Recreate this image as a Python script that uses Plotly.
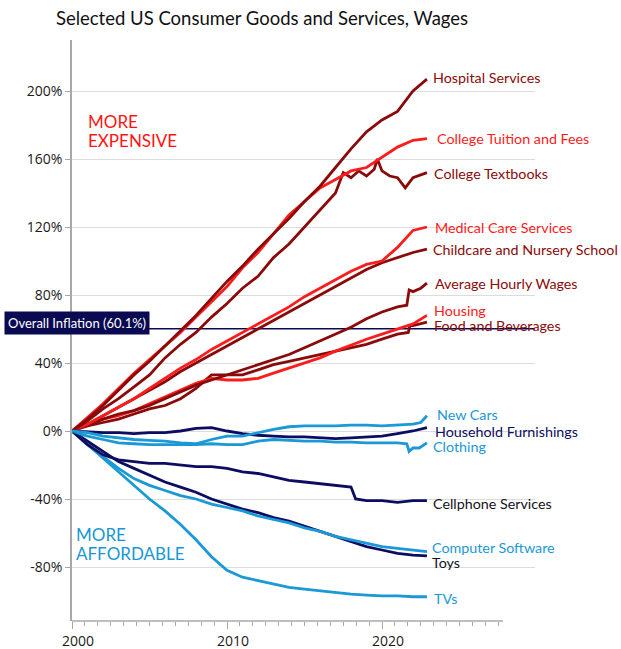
import plotly.graph_objects as go

# ---------------- data ----------------
YEARS = [2000, 2001, 2002, 2003, 2004, 2005, 2006, 2007, 2008, 2009, 2010, 2011,
         2012, 2013, 2014, 2015, 2016, 2017, 2018, 2019, 2020, 2021, 2022, 2022.9]

hospital = [0, 7, 15, 24, 33, 41, 50, 59, 68, 78, 88, 97, 107, 116, 125, 135, 144,
            155, 166, 176, 183, 188, 200, 207]
tuition = [0, 8, 16, 25, 34, 42, 50, 58, 67, 76, 85, 96, 105, 116, 127, 135, 143,
           148, 153, 155, 161, 167, 171, 172]
textbooks_x = [2000, 2001, 2002, 2003, 2004, 2005, 2006, 2007, 2008, 2009, 2010, 2011,
               2012, 2013, 2014, 2015, 2016, 2017, 2017.5, 2018, 2018.5, 2019, 2019.5,
               2019.7, 2020, 2020.5, 2021, 2021.5, 2022, 2022.9]
textbooks = [0, 6, 13, 19, 26, 33, 43, 51, 58, 67, 75, 84, 91, 102, 110, 120, 130, 140,
             152, 149, 153, 150, 154, 160, 153, 150, 149, 143, 149, 152]
medical = [0, 4, 9, 14, 19, 25, 31, 37, 42, 48, 53, 58, 63, 68, 73, 79, 84, 89, 94, 98,
           100, 108, 118, 120]
childcare = [0, 4, 9, 14, 19, 24, 29, 35, 40, 45, 50, 55, 60, 65, 70, 75, 80, 85, 90, 95,
             99, 102, 105, 107]
wages_x = [2000, 2001, 2002, 2003, 2004, 2005, 2006, 2007, 2008, 2009, 2010, 2011, 2012,
           2013, 2014, 2015, 2016, 2017, 2018, 2019, 2020, 2021, 2021.6, 2021.75, 2022,
           2022.5, 2022.9]
wages = [0, 3.5, 7, 10, 12, 15, 19, 23, 27, 30, 33, 36, 39, 42, 45, 49, 53, 57, 61, 66,
         70, 73, 74, 83, 82, 84, 87]
housing = [0, 4, 7, 9, 12, 16, 20, 24, 28, 31, 30, 30, 31, 34, 37, 40, 43, 47, 50.5, 54,
           57, 60, 63, 68]
food_x = [2000, 2001, 2002, 2003, 2004, 2005, 2006, 2007, 2008, 2009, 2010, 2011, 2012,
          2013, 2014, 2015, 2016, 2017, 2018, 2019, 2020, 2021, 2021.7, 2021.8, 2022, 2022.9]
food = [0, 3, 5, 7, 10, 13, 15, 19, 25, 33, 33, 33, 36, 39, 41, 43, 45, 47, 49, 51, 54,
        57, 58, 62, 62, 64]
cars_x = [2000, 2001, 2002, 2003, 2004, 2005, 2006, 2007, 2008, 2009, 2010, 2011, 2012,
          2013, 2014, 2015, 2016, 2017, 2018, 2019, 2020, 2021, 2022, 2022.5, 2022.9]
new_cars = [0, -1, -3, -4, -5, -5.5, -6, -7, -7.5, -5, -3, -3, -1, 1, 2.5, 3, 3, 3, 3.5,
            3.5, 3, 3.5, 4, 5, 9]
furnishings = [0, -0.5, -1, -1, -1.5, -1, -1, 0, 1.5, 2, 0, -1.5, -2.5, -3, -3.5, -3.5,
               -4, -4.5, -4, -3.5, -3, -1.5, 0, 2]
clothing_x = [2000, 2001, 2002, 2003, 2004, 2005, 2006, 2007, 2008, 2009, 2010, 2011,
              2012, 2013, 2014, 2015, 2016, 2017, 2018, 2019, 2020, 2021, 2021.6, 2021.75,
              2022, 2022.4, 2022.9]
clothing = [0, -3, -5, -7, -7.5, -8, -8, -8, -8, -7.5, -8, -8, -6, -5, -5.5, -6, -6, -6.5,
            -6.5, -7, -7, -7, -7.5, -12, -10, -10, -7]
cell_x = [2000, 2001, 2002, 2003, 2004, 2005, 2006, 2007, 2008, 2009, 2010, 2011, 2012,
          2013, 2014, 2015, 2016, 2017, 2018, 2018.3, 2019, 2020, 2021, 2022, 2022.9]
cellphone = [0, -8, -14, -17, -18, -19, -19, -20, -21, -21, -22, -24, -25, -27, -29, -30,
             -31, -32, -33, -40, -41, -41, -42, -41, -41]
software = [0, -8, -15, -22, -28, -32, -35, -38, -40, -43, -45, -47, -50, -52, -54, -57,
            -59, -62, -64, -66, -68, -69, -70, -71]
toys = [0, -6, -12, -18, -22, -26, -30, -33, -36, -40, -43, -46, -48, -51, -53, -56, -59,
        -62, -65, -68, -70, -72, -73, -73.5]
tvs = [0, -8, -16, -24, -32, -40, -47, -55, -64, -74, -82, -86, -88, -90, -92, -93, -94,
       -95, -96, -96.5, -97, -97, -97.5, -97.5]

overall_inflation = 60.1

Y_TICKS = [-80, -40, 0, 40, 80, 120, 160, 200]
Y_TICK_TEXT = ["-80%", "-40%", "0%", "40%", "80%", "120%", "160%", "200%"]
X_TICKS = [2000, 2010, 2020]
X_TICK_TEXT = ["2000", "2010", "2020"]

# ---------------- styles ----------------
DARK_RED = "#8a0a0a"
RED = "#fb1c1c"
NAVY = "#0c0c62"
LIGHT_BLUE = "#1b98d6"
DARK_TEXT = "#121222"

# (name, x, y, line colour, label colour, label y-shift px, label x-shift px)
series = [
    ("Food and Beverages", food_x, food, DARK_RED, DARK_RED, -3, 6),
    ("Housing", YEARS, housing, RED, RED, 5, 6),
    ("Average Hourly Wages", wages_x, wages, DARK_RED, DARK_RED, 0, 7),
    ("Childcare and Nursery School", YEARS, childcare, DARK_RED, DARK_RED, 0, 5),
    ("Medical Care Services", YEARS, medical, RED, RED, 0, 7),
    ("College Textbooks", textbooks_x, textbooks, DARK_RED, DARK_RED, -1, 6),
    ("College Tuition and Fees", YEARS, tuition, RED, RED, 0, 9),
    ("Hospital Services", YEARS, hospital, DARK_RED, DARK_RED, 2, 5),
    ("TVs", YEARS, tvs, LIGHT_BLUE, LIGHT_BLUE, -2, 6),
    ("Toys", YEARS, toys, NAVY, DARK_TEXT, -7, 4),
    ("Computer Software", YEARS, software, LIGHT_BLUE, LIGHT_BLUE, 4, 4),
    ("Cellphone Services", cell_x, cellphone, NAVY, DARK_TEXT, -3, 5),
    ("Clothing", clothing_x, clothing, LIGHT_BLUE, LIGHT_BLUE, -4, 5),
    ("Household Furnishings", YEARS, furnishings, NAVY, NAVY, -4, 7),
    ("New Cars", cars_x, new_cars, LIGHT_BLUE, LIGHT_BLUE, 1, 9),
]

fig = go.Figure()
annotations = []
for name, xs, ys, lc, tc, ysh, xsh in series:
    fig.add_trace(go.Scatter(x=xs, y=ys, mode="lines", name=name,
                             line=dict(color=lc, width=2.8), hoverinfo="skip"))
    annotations.append(dict(x=xs[-1], y=ys[-1], xref="x", yref="y", text=name,
                            showarrow=False, xanchor="left", yanchor="middle",
                            xshift=xsh, yshift=ysh, borderpad=0,
                            font=dict(family="Lato", size=14.3, color=tc)))

# overall inflation label box
annotations.append(dict(x=0, y=overall_inflation, xref="paper", yref="y",
                        text="Overall Inflation (60.1%)", showarrow=False,
                        xanchor="right", yanchor="middle", xshift=78, yshift=6,
                        bgcolor="#0a0a52", borderpad=3,
                        font=dict(family="Lato", size=13, color="white")))

# region captions (one annotation per line to keep the tight line spacing)
for txt, ysh, col, xsh, yref_pos in [
    ("MORE", -81, "#ff1414", 14, 1),
    ("EXPENSIVE", -100, "#ff1414", 14, 1),
    ("MORE", 87, "#1a96d4", 2, 0),
    ("AFFORDABLE", 68, "#1a96d4", 2, 0),
]:
    annotations.append(dict(x=0, y=yref_pos, xref="paper", yref="paper", text=txt,
                            showarrow=False, xanchor="left", yanchor="middle",
                            xshift=xsh, yshift=ysh,
                            font=dict(family="Lato", size=17, color=col)))

shapes = [
    dict(type="line", xref="paper", yref="y", x0=0, x1=1,
         y0=overall_inflation, y1=overall_inflation,
         line=dict(color="#0a0a52", width=1.5), layer="below"),
    dict(type="line", xref="x", yref="paper", x0=2000, x1=2027.8, y0=0, y1=0,
         line=dict(color="#a8a8a8", width=1.5)),
]

minor_ticks = [2000 + k * 10 / 12 for k in range(0, 34)]

fig.update_layout(
    width=621, height=649,
    margin=dict(l=72, r=86, t=40, b=28, autoexpand=False),
    paper_bgcolor="white", plot_bgcolor="white",
    showlegend=False,
    title=dict(text="Selected US Consumer Goods and Services, Wages",
               x=262 / 621, xanchor="center", xref="container",
               y=1 - 19 / 649, yanchor="middle", yref="container",
               font=dict(family="Lato", size=18.5, color="#111111")),
    annotations=annotations,
    shapes=shapes,
    xaxis=dict(range=[2000, 2000 + 463 / 15.5], showgrid=False, zeroline=False,
               automargin=False,
               showline=False, tickvals=X_TICKS, ticktext=X_TICK_TEXT,
               ticks="outside", ticklen=7, tickwidth=1, tickcolor="#a8a8a8",
               ticklabelshift=6,
               tickfont=dict(family="Open Sans", size=14, color="#1a1a1a"),
               minor=dict(tickvals=minor_ticks, ticks="outside", ticklen=4,
                          tickcolor="#a8a8a8", showgrid=False)),
    yaxis=dict(range=[(431 - 621) / 1.7, (431 - 40) / 1.7], tickvals=Y_TICKS,
               automargin=False,
               ticktext=Y_TICK_TEXT, showgrid=True, gridcolor="#dcdcdc", gridwidth=1,
               zeroline=False, showline=True, linecolor="#a8a8a8", linewidth=1.5,
               ticks="outside", ticklen=5, tickcolor="#a8a8a8",
               tickfont=dict(family="Open Sans", size=14, color="#1a1a1a")),
)

fig.write_html("out.html", config={"displayModeBar": False},
               post_script="document.body.style.margin='0';"
                           "document.body.style.overflow='hidden';")
